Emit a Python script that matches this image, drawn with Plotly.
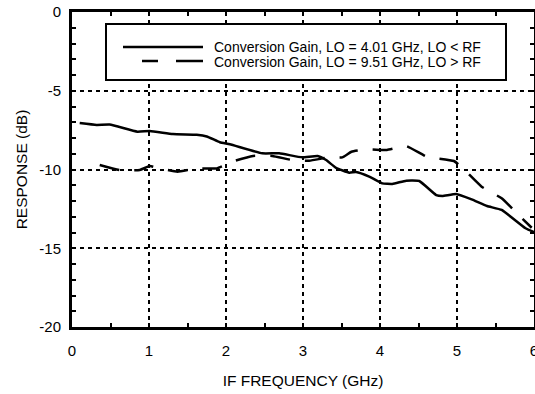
import plotly.graph_objects as go

# Conversion Gain, LO = 4.01 GHz, LO < RF
if_freq_low = [0.10, 0.32, 0.49, 0.85, 1.01, 1.31, 1.62, 1.75, 1.92, 2.05, 2.47, 2.69,
               2.99, 3.19, 3.30, 3.43, 3.60, 3.69, 3.86, 4.03, 4.16, 4.34, 4.51, 4.73,
               4.81, 4.99, 5.19, 5.39, 5.58, 5.89, 6.00]
gain_low = [-7.05, -7.17, -7.15, -7.60, -7.55, -7.75, -7.80, -7.90, -8.27, -8.40, -8.97, -8.97,
            -9.23, -9.14, -9.40, -9.90, -10.20, -10.16, -10.45, -10.88, -10.92, -10.71, -10.73, -11.62,
            -11.68, -11.56, -11.90, -12.32, -12.57, -13.73, -13.97]

# Conversion Gain, LO = 9.51 GHz, LO > RF
if_freq_high = [0.36, 0.62, 0.88, 1.01, 1.10, 1.37, 1.62, 1.88, 2.11, 2.35, 2.60, 2.86,
                3.08, 3.34, 3.51, 3.63, 3.84, 4.09, 4.34, 4.61, 4.96, 5.09, 5.32, 5.58,
                5.80, 5.97]
gain_high = [-9.71, -10.03, -10.03, -9.78, -9.88, -10.14, -9.93, -9.93, -9.46, -9.14, -9.14, -9.40,
             -9.44, -9.23, -9.23, -8.87, -8.72, -8.76, -8.51, -9.19, -9.46, -9.99, -11.09, -11.83,
             -12.89, -13.70]

x_ticks = [0, 1, 2, 3, 4, 5, 6]
y_ticks = [0, -5, -10, -15, -20]
legend_labels = ["Conversion Gain, LO = 4.01 GHz, LO < RF",
                 "Conversion Gain, LO = 9.51 GHz, LO > RF"]

FONT = "Liberation Sans, Arial, Helvetica, sans-serif"

fig = go.Figure()
fig.add_trace(go.Scatter(x=if_freq_low, y=gain_low, mode="lines",
                         line=dict(color="black", width=2.5, shape="spline", smoothing=0.4),
                         name=legend_labels[0], showlegend=False))
fig.add_trace(go.Scatter(x=if_freq_high, y=gain_high, mode="lines",
                         line=dict(color="black", width=2.5, dash="20px,15px", shape="spline", smoothing=0.4),
                         name=legend_labels[1], showlegend=False))
# empty trace to create the top/right frame axes
fig.add_trace(go.Scatter(x=[], y=[], xaxis="x2", yaxis="y2", showlegend=False, hoverinfo="skip"))

minor_tick = dict(ticks="inside", ticklen=4, tickwidth=1.5, tickcolor="black", showgrid=False)

axis_common = dict(
    showline=True, linecolor="black", linewidth=3, mirror=True,
    showgrid=True, gridcolor="black", gridwidth=1.5, griddash="4px,4px",
    zeroline=False, ticks="inside", ticklen=4, tickwidth=1.5, tickcolor="black",
    tickfont=dict(family=FONT, size=15, color="black"),
)

fig.update_layout(
    xaxis=dict(range=[0, 6], tickvals=x_ticks, ticktext=[str(v) for v in x_ticks],
               minor=dict(dtick=0.5, **minor_tick), ticklabelstandoff=8, ticklabeloverflow="allow",
               title=dict(text="IF FREQUENCY (GHz)", font=dict(family=FONT, size=15.5, color="black"), standoff=18),
               **axis_common),
    yaxis=dict(range=[-20, 0], tickvals=y_ticks, ticktext=[str(v) for v in y_ticks],
               minor=dict(dtick=1, **minor_tick), ticklabelstandoff=5,
               title=dict(text="RESPONSE (dB)", font=dict(family=FONT, size=15.5, color="black"), standoff=8),
               **axis_common),
    xaxis2=dict(range=[0, 6], overlaying="x", side="top", anchor="y2", showgrid=False, zeroline=False,
                showticklabels=False, ticks="inside", ticklen=4, tickwidth=1.5, tickcolor="black",
                tickvals=x_ticks, minor=dict(dtick=0.5, **minor_tick), showline=False),
    yaxis2=dict(range=[-20, 0], overlaying="y", side="right", anchor="x2", showgrid=False, zeroline=False,
                showticklabels=False, ticks="inside", ticklen=4, tickwidth=1.5, tickcolor="black",
                tickvals=y_ticks, minor=dict(dtick=1, **minor_tick), showline=False),
)

# legend box drawn in paper coordinates
plot_l, plot_r, plot_t, plot_b = 72, 534, 12, 327
W, H = plot_r - plot_l, plot_b - plot_t
px = lambda x: (x - plot_l) / W
py = lambda y: 1 - (y - plot_t) / H

shapes = [
    dict(type="rect", xref="paper", yref="paper", x0=px(106), x1=px(506), y0=py(80), y1=py(24),
         line=dict(color="black", width=2), fillcolor="white", layer="above"),
    dict(type="line", xref="paper", yref="paper", x0=px(123), x1=px(203), y0=py(47), y1=py(47),
         line=dict(color="black", width=2.5), layer="above"),
    dict(type="line", xref="paper", yref="paper", x0=px(142), x1=px(158), y0=py(61), y1=py(61),
         line=dict(color="black", width=2.5), layer="above"),
    dict(type="line", xref="paper", yref="paper", x0=px(176), x1=px(203), y0=py(61), y1=py(61),
         line=dict(color="black", width=2.5), layer="above"),
]
annotations = [
    dict(xref="paper", yref="paper", x=px(212), y=py(47), text=legend_labels[0], showarrow=False,
         xanchor="left", yanchor="middle", font=dict(family=FONT, size=14, color="black")),
    dict(xref="paper", yref="paper", x=px(212), y=py(61.5), text=legend_labels[1], showarrow=False,
         xanchor="left", yanchor="middle", font=dict(family=FONT, size=14, color="black")),
]

fig.update_layout(
    width=535, height=394,
    margin=dict(l=72, r=1, t=12, b=67, autoexpand=False),
    paper_bgcolor="white", plot_bgcolor="white",
    shapes=shapes, annotations=annotations,
    showlegend=False,
    font=dict(family=FONT, color="black"),
)

fig.write_html("out.html")
